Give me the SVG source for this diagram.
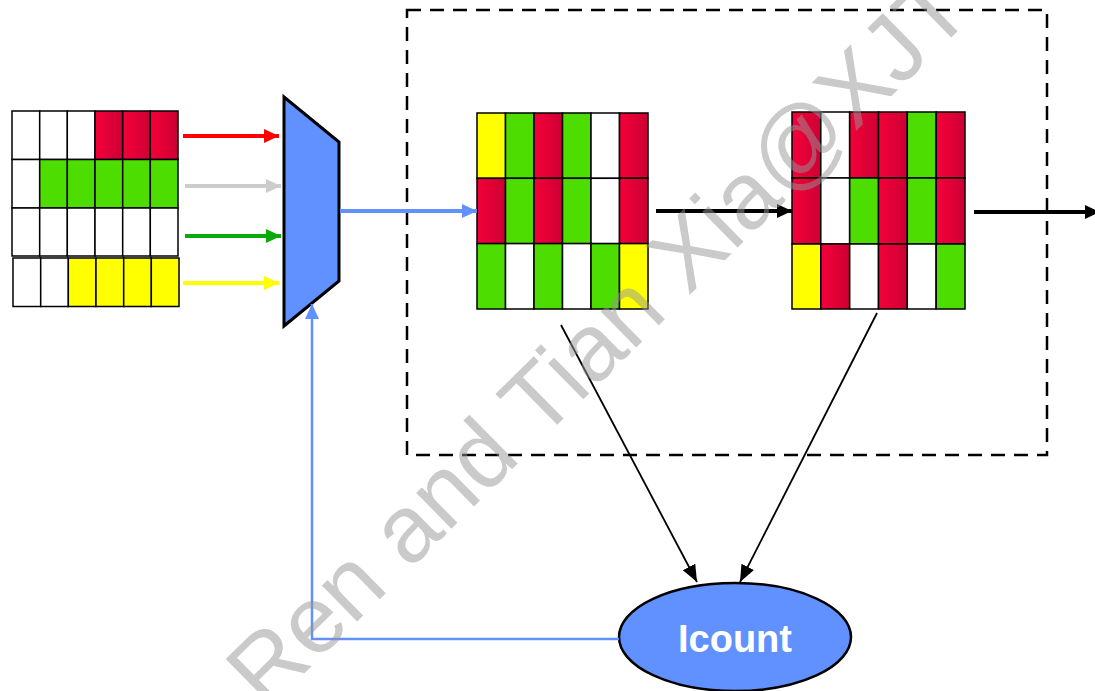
<svg xmlns="http://www.w3.org/2000/svg" width="1095" height="691" viewBox="0 0 1095 691">
<style>
.c{stroke:#000;stroke-width:1.5}
.w{fill:#fff}
.g{fill:#4edd00}
.y{fill:#ffff00}
.r{fill:url(#red)}
.ln{fill:none}
</style>
<defs>
<linearGradient id="red" x1="0" y1="0" x2="1" y2="0">
<stop offset="0" stop-color="#f5003a"/>
<stop offset="1" stop-color="#cc0033"/>
</linearGradient>
<marker id="mRed" markerUnits="userSpaceOnUse" markerWidth="16" markerHeight="16" refX="15" refY="7" orient="auto"><path d="M0,0 L15,7 L0,14 Z" fill="#ff0000"/></marker>
<marker id="mGray" markerUnits="userSpaceOnUse" markerWidth="16" markerHeight="16" refX="15" refY="7" orient="auto"><path d="M0,0 L15,7 L0,14 Z" fill="#cccccc"/></marker>
<marker id="mGreen" markerUnits="userSpaceOnUse" markerWidth="16" markerHeight="16" refX="15" refY="7" orient="auto"><path d="M0,0 L15,7 L0,14 Z" fill="#0aaa0a"/></marker>
<marker id="mYellow" markerUnits="userSpaceOnUse" markerWidth="16" markerHeight="16" refX="15" refY="7" orient="auto"><path d="M0,0 L15,7 L0,14 Z" fill="#ffff00"/></marker>
<marker id="mBlue" markerUnits="userSpaceOnUse" markerWidth="16" markerHeight="16" refX="15" refY="7" orient="auto"><path d="M0,0 L15,7 L0,14 Z" fill="#6190ff"/></marker>
<marker id="mBlack" markerUnits="userSpaceOnUse" markerWidth="16" markerHeight="16" refX="15" refY="7" orient="auto"><path d="M0,0 L15,7 L0,14 Z" fill="#000"/></marker>
<marker id="mThin" markerUnits="userSpaceOnUse" markerWidth="18" markerHeight="16" refX="17" refY="7" orient="auto"><path d="M0,0 L17,7 L0,14 Z" fill="#000"/></marker>
</defs>
<rect width="1095" height="691" fill="#fff"/>

<g id="container">
<rect x="407" y="10" width="640" height="445" fill="none" stroke="#000" stroke-width="2.5" stroke-dasharray="14,9"/>
</g>

<g id="queues">
<g id="q1">
<rect class="c w" x="12" y="111" width="27.7" height="48.5"/>
<rect class="c w" x="39.7" y="111" width="27.7" height="48.5"/>
<rect class="c w" x="67.3" y="111" width="27.7" height="48.5"/>
<rect class="c r" x="95" y="111" width="27.7" height="48.5"/>
<rect class="c r" x="122.7" y="111" width="27.7" height="48.5"/>
<rect class="c r" x="150.3" y="111" width="27.7" height="48.5"/>
</g>
<g id="q2">
<rect class="c w" x="12" y="159.5" width="27.7" height="48.5"/>
<rect class="c g" x="39.7" y="159.5" width="27.7" height="48.5"/>
<rect class="c g" x="67.3" y="159.5" width="27.7" height="48.5"/>
<rect class="c g" x="95" y="159.5" width="27.7" height="48.5"/>
<rect class="c g" x="122.7" y="159.5" width="27.7" height="48.5"/>
<rect class="c g" x="150.3" y="159.5" width="27.7" height="48.5"/>
</g>
<g id="q3">
<rect class="c w" x="12" y="208" width="27.7" height="48"/>
<rect class="c w" x="39.7" y="208" width="27.7" height="48"/>
<rect class="c w" x="67.3" y="208" width="27.7" height="48"/>
<rect class="c w" x="95" y="208" width="27.7" height="48"/>
<rect class="c w" x="122.7" y="208" width="27.7" height="48"/>
<rect class="c w" x="150.3" y="208" width="27.7" height="48"/>
</g>
<g id="q4">
<rect class="c w" x="13" y="258" width="27.7" height="48.5"/>
<rect class="c w" x="40.7" y="258" width="27.7" height="48.5"/>
<rect class="c y" x="68.3" y="258" width="27.7" height="48.5"/>
<rect class="c y" x="96" y="258" width="27.7" height="48.5"/>
<rect class="c y" x="123.7" y="258" width="27.7" height="48.5"/>
<rect class="c y" x="151.3" y="258" width="27.7" height="48.5"/>
</g>
</g>

<g id="mux">
<polygon points="284,97 339,142 339,281 284,326" fill="#6190ff" stroke="#000" stroke-width="3" stroke-linejoin="miter"/>
</g>

<g id="stage1">
<rect class="c y" x="477" y="113" width="28.5" height="65.3"/>
<rect class="c g" x="505.5" y="113" width="28.5" height="65.3"/>
<rect class="c r" x="534" y="113" width="28.5" height="65.3"/>
<rect class="c g" x="562.5" y="113" width="28.5" height="65.3"/>
<rect class="c w" x="591" y="113" width="28.5" height="65.3"/>
<rect class="c r" x="619.5" y="113" width="28.5" height="65.3"/>
<rect class="c r" x="477" y="178.3" width="28.5" height="65.3"/>
<rect class="c g" x="505.5" y="178.3" width="28.5" height="65.3"/>
<rect class="c r" x="534" y="178.3" width="28.5" height="65.3"/>
<rect class="c g" x="562.5" y="178.3" width="28.5" height="65.3"/>
<rect class="c w" x="591" y="178.3" width="28.5" height="65.3"/>
<rect class="c r" x="619.5" y="178.3" width="28.5" height="65.3"/>
<rect class="c g" x="477" y="243.6" width="28.5" height="65.4"/>
<rect class="c w" x="505.5" y="243.6" width="28.5" height="65.4"/>
<rect class="c g" x="534" y="243.6" width="28.5" height="65.4"/>
<rect class="c w" x="562.5" y="243.6" width="28.5" height="65.4"/>
<rect class="c g" x="591" y="243.6" width="28.5" height="65.4"/>
<rect class="c y" x="619.5" y="243.6" width="28.5" height="65.4"/>
</g>

<g id="stage2">
<rect class="c r" x="792" y="112" width="28.8" height="66"/>
<rect class="c w" x="820.8" y="112" width="28.8" height="66"/>
<rect class="c r" x="849.7" y="112" width="28.8" height="66"/>
<rect class="c r" x="878.5" y="112" width="28.8" height="66"/>
<rect class="c g" x="907.3" y="112" width="28.8" height="66"/>
<rect class="c r" x="936.2" y="112" width="28.8" height="66"/>
<rect class="c r" x="792" y="178" width="28.8" height="66"/>
<rect class="c w" x="820.8" y="178" width="28.8" height="66"/>
<rect class="c g" x="849.7" y="178" width="28.8" height="66"/>
<rect class="c r" x="878.5" y="178" width="28.8" height="66"/>
<rect class="c g" x="907.3" y="178" width="28.8" height="66"/>
<rect class="c r" x="936.2" y="178" width="28.8" height="66"/>
<rect class="c y" x="792" y="244" width="28.8" height="65"/>
<rect class="c r" x="820.8" y="244" width="28.8" height="65"/>
<rect class="c w" x="849.7" y="244" width="28.8" height="65"/>
<rect class="c r" x="878.5" y="244" width="28.8" height="65"/>
<rect class="c w" x="907.3" y="244" width="28.8" height="65"/>
<rect class="c g" x="936.2" y="244" width="28.8" height="65"/>
</g>

<g id="icount">
<ellipse cx="735" cy="637" rx="116" ry="54" fill="#6190ff" stroke="#000" stroke-width="2.5"/>
<text x="735" y="652" text-anchor="middle" font-family="Liberation Sans, Arial, sans-serif" font-weight="bold" font-size="38" fill="#fff">Icount</text>
</g>

<g id="connectors" class="ln">
<line x1="183" y1="136" x2="279" y2="136" stroke="#ff0000" stroke-width="4" marker-end="url(#mRed)"/>
<line x1="185" y1="186" x2="281" y2="186" stroke="#cccccc" stroke-width="4" marker-end="url(#mGray)"/>
<line x1="185" y1="236" x2="281" y2="236" stroke="#0aaa0a" stroke-width="4" marker-end="url(#mGreen)"/>
<line x1="183" y1="283" x2="279" y2="283" stroke="#ffff00" stroke-width="4" marker-end="url(#mYellow)"/>
<line x1="340" y1="211" x2="477" y2="211" stroke="#6190ff" stroke-width="4" marker-end="url(#mBlue)"/>
<line x1="656" y1="211" x2="792" y2="211" stroke="#000" stroke-width="4" marker-end="url(#mBlack)"/>
<line x1="974" y1="212" x2="1100" y2="212" stroke="#000" stroke-width="4" marker-end="url(#mBlack)"/>
<polyline points="619,639 312,639 312,304" fill="none" stroke="#6190ff" stroke-width="2.5" marker-end="url(#mBlue)"/>
<line x1="561" y1="325" x2="697" y2="582" stroke="#000" stroke-width="1.8" marker-end="url(#mThin)"/>
<line x1="877" y1="313" x2="740" y2="582" stroke="#000" stroke-width="1.8" marker-end="url(#mThin)"/>
</g>

<text transform="translate(266,711) rotate(-44.5)" font-family="Liberation Sans, Arial, sans-serif" font-size="95" fill="#969696" fill-opacity="0.5">Ren and Tian Xia@XJTU</text>
</svg>
